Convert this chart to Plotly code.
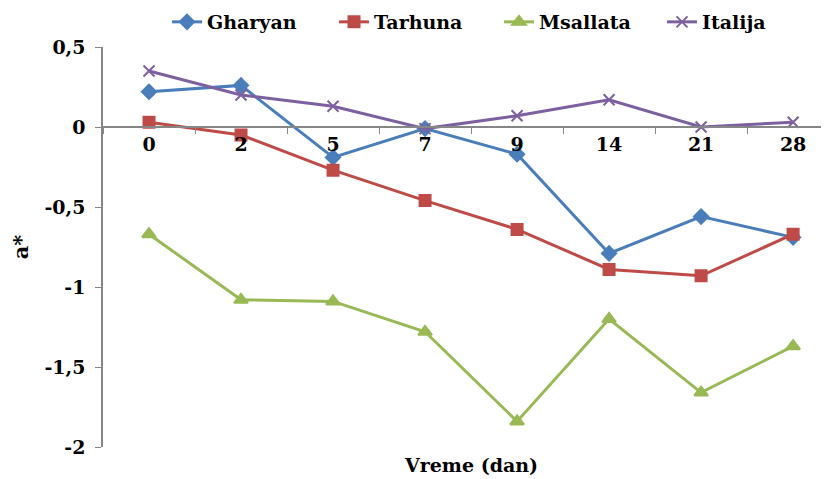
import plotly.graph_objects as go

days = ["0", "2", "5", "7", "9", "14", "21", "28"]
gharyan = [0.22, 0.26, -0.19, -0.01, -0.17, -0.79, -0.56, -0.69]
tarhuna = [0.03, -0.05, -0.27, -0.46, -0.64, -0.89, -0.93, -0.67]
msallata = [-0.67, -1.08, -1.09, -1.28, -1.84, -1.20, -1.66, -1.37]
italija = [0.35, 0.20, 0.13, -0.01, 0.07, 0.17, 0.00, 0.03]

y_ticks = [0.5, 0, -0.5, -1, -1.5, -2]
y_ticktext = ["0,5", "0", "-0,5", "-1", "-1,5", "-2"]

series = [
    ("Gharyan", gharyan, "#4A7EBB", "diamond", 11),
    ("Tarhuna", tarhuna, "#BE4B48", "square", 11),
    ("Msallata", msallata, "#98B954", "triangle-up", 12),
    ("Italija", italija, "#7D60A0", "x-thin-open", 11),
]
legend_ids = ["legend", "legend2", "legend3", "legend4"]
legend_left_px = [167, 334, 499, 662]

font_family = "DejaVu Serif"
fs = 19

fig = go.Figure()
for (name, vals, color, sym, size), lid in zip(series, legend_ids):
    fig.add_trace(go.Scatter(
        x=days, y=vals, name="<b>" + name + "</b>", mode="lines+markers",
        line=dict(color=color, width=3),
        marker=dict(symbol=sym, size=size, color=color,
                    line=dict(color=color, width=2)),
        legend=lid,
    ))

legend_layout = {}
for lid, px in zip(legend_ids, legend_left_px):
    legend_layout[lid] = dict(
        orientation="h", xref="paper", yref="paper",
        x=(px - 103) / 726, xanchor="left", y=1 + 25 / 400, yanchor="middle",
        font=dict(family=font_family, size=fs, color="black"),
        itemwidth=30, bgcolor="rgba(0,0,0,0)")

fig.update_layout(
    width=829, height=479,
    margin=dict(l=95, r=8, t=39, b=40, autoexpand=False),
    paper_bgcolor="white", plot_bgcolor="white",
    font=dict(family=font_family, size=fs, color="black"),
    showlegend=True,
    xaxis=dict(type="category", range=[-0.5, 7.39], anchor="free", position=0.8,
               showline=True, linecolor="#868686", linewidth=1.5,
               ticks="outside", tickson="boundaries", ticklen=6, tickcolor="#868686",
               showgrid=False, zeroline=False,
               tickprefix="<b>", ticksuffix="</b>",
               tickfont=dict(family=font_family, size=fs, color="black")),
    yaxis=dict(range=[-2, 0.5], tickvals=y_ticks, ticktext=["<b>" + t + "</b>" for t in y_ticktext],
               showline=True, linecolor="#868686", linewidth=1.5,
               ticks="outside", ticklen=6, tickcolor="#868686", ticklabelstandoff=6,
               showgrid=False, zeroline=False,
               tickfont=dict(family=font_family, size=fs, color="black"),
               title=dict(text="<b>a*</b>", font=dict(family=font_family, size=21), standoff=18)),
    **legend_layout,
)

fig.add_annotation(text="<b>Vreme (dan)</b>", xref="paper", yref="paper",
                   x=(471 - 103) / 726, y=(447 - 465) / 400, yanchor="middle",
                   showarrow=False,
                   font=dict(family=font_family, size=fs, color="black"))

fig.write_html("out.html")
